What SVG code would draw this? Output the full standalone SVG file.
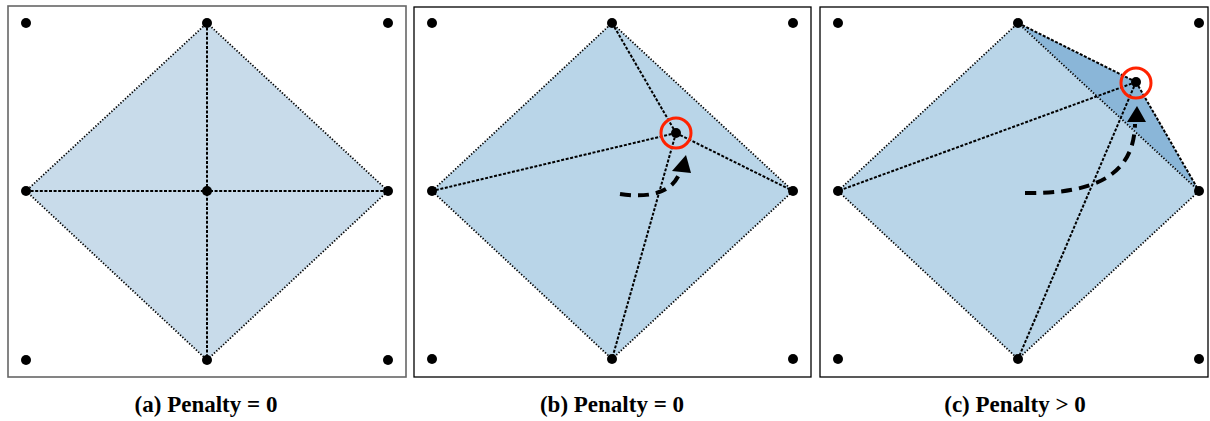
<svg xmlns="http://www.w3.org/2000/svg" width="1210" height="421" viewBox="0 0 1210 421">
<style>
.frame{fill:none;stroke:#000;stroke-width:1.3}
.dot{fill:#000}
.outline{fill:none;stroke:#000;stroke-width:1.8;stroke-dasharray:1.3 1.8}
.inner{fill:none;stroke:#000;stroke-width:2;stroke-dasharray:3 1.6}
.mv{fill:none;stroke:#000;stroke-width:4;stroke-dasharray:11 7}
.ring{fill:none;stroke:#ff2200;stroke-width:3}
.cap{font-family:"Liberation Serif",serif;font-weight:bold;font-size:23px;text-anchor:middle;fill:#000}
</style>
<g id="panel-a">
<rect x="8" y="6" width="398" height="371" fill="none" stroke="#666" stroke-width="1.6"/>
<polygon points="207,23 388,191 207,360 26,191" fill="#c8dbea"/>
<polygon class="outline" points="207,23 388,191 207,360 26,191"/>
<line class="inner" x1="207" y1="23" x2="207" y2="360"/>
<line class="inner" x1="26" y1="191" x2="388" y2="191"/>
<circle class="dot" cx="26" cy="23" r="5"/><circle class="dot" cx="207" cy="23" r="5"/><circle class="dot" cx="388" cy="23" r="5"/>
<circle class="dot" cx="26" cy="191" r="5"/><circle class="dot" cx="207" cy="191" r="5"/><circle class="dot" cx="388" cy="191" r="5"/>
<circle class="dot" cx="26" cy="360" r="5"/><circle class="dot" cx="207" cy="360" r="5"/><circle class="dot" cx="388" cy="360" r="5"/>
<text class="cap" x="206" y="412">(a) Penalty = 0</text>
</g>
<g id="panel-b">
<rect class="frame" x="414" y="7" width="397" height="370"/>
<polygon points="612,23 793,191 612,359 432,191" fill="#b9d5e8"/>
<polygon class="outline" points="612,23 793,191 612,359 432,191"/>
<line class="inner" x1="676" y1="133" x2="612" y2="23"/>
<line class="inner" x1="676" y1="133" x2="432" y2="191"/>
<line class="inner" x1="676" y1="133" x2="793" y2="191"/>
<line class="inner" x1="676" y1="133" x2="612" y2="359"/>
<circle class="dot" cx="432" cy="23" r="5"/><circle class="dot" cx="612" cy="23" r="5"/><circle class="dot" cx="793" cy="23" r="5"/>
<circle class="dot" cx="432" cy="191" r="5"/><circle class="dot" cx="793" cy="191" r="5"/>
<circle class="dot" cx="432" cy="359" r="5"/><circle class="dot" cx="612" cy="359" r="5"/><circle class="dot" cx="793" cy="359" r="5"/>
<circle class="dot" cx="676" cy="133" r="5"/>
<circle class="ring" cx="676" cy="133" r="15"/>
<text class="cap" x="612" y="412">(b) Penalty = 0</text>
</g>
<g id="panel-c">
<rect class="frame" x="820" y="7" width="388" height="370"/>
<polygon points="1018,23 1199,191 1018,359 838,191" fill="#b9d5e8"/>
<polygon points="1018,23 1136,82 1199,191" fill="#8ab6d8"/>
<polygon class="outline" points="1018,23 1199,191 1018,359 838,191"/>
<line class="inner" x1="1136" y1="82" x2="1018" y2="23"/>
<line class="inner" x1="1136" y1="82" x2="838" y2="191"/>
<line class="inner" x1="1136" y1="82" x2="1199" y2="191"/>
<line class="inner" x1="1136" y1="82" x2="1018" y2="359"/>
<circle class="dot" cx="838" cy="23" r="5"/><circle class="dot" cx="1018" cy="23" r="5"/><circle class="dot" cx="1199" cy="23" r="5"/>
<circle class="dot" cx="838" cy="191" r="5"/><circle class="dot" cx="1199" cy="191" r="5"/>
<circle class="dot" cx="838" cy="359" r="5"/><circle class="dot" cx="1018" cy="359" r="5"/><circle class="dot" cx="1199" cy="359" r="5"/>
<circle class="dot" cx="1136" cy="82" r="5"/>
<circle class="ring" cx="1136" cy="83" r="15"/>
<text class="cap" x="1015" y="412">(c) Penalty &gt; 0</text>
</g>
<g id="connectors">
<path class="mv" d="M620,194 C648,198 672,194 680,172"/>
<polygon points="686,155 672,171 691,173" fill="#000"/>
<path class="mv" d="M1025,193 C1090,194 1134,178 1135,124"/>
<polygon points="1137,106 1127,122 1146,122" fill="#000"/>
</g>
</svg>
